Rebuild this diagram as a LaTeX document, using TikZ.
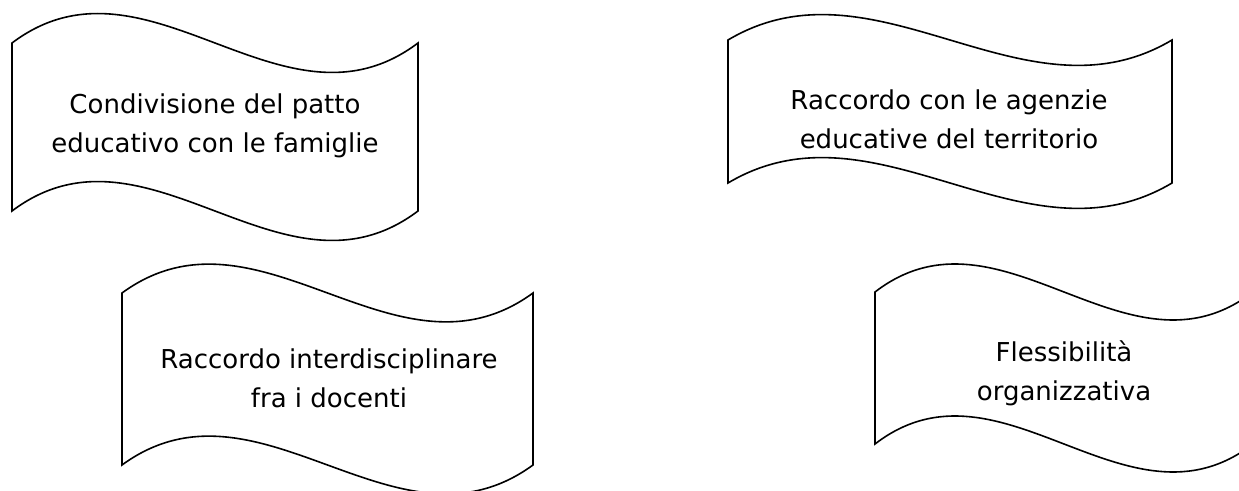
\documentclass[tikz,border=0pt]{standalone}
\usepackage{fontspec}
\setmainfont{DejaVu Sans}
\begin{document}
\begin{tikzpicture}[x=0.75pt,y=-0.75pt,
  banner/.style={draw=black,line width=1.2pt,line join=miter,fill=white},
  caption/.style={align=center,inner sep=0pt,font=\fontsize{19.5}{29.5}\selectfont}]
% page frame
\useasboundingbox (0,0) rectangle (1239,491);
\begin{scope}
\clip (0,0) rectangle (1239,491);
% wavy flag: left x, right x, top corner y, bottom corner y, control offset
\newcommand\wavebanner[5]{%
  \path[banner]
    (#1,#3) .. controls ({#1+(#2-#1)/3},{#3-#5}) and ({#1+2*(#2-#1)/3},{#3+#5}) .. (#2,#3)
    -- (#2,#4)
    .. controls ({#1+2*(#2-#1)/3},{#4+#5}) and ({#1+(#2-#1)/3},{#4-#5}) .. (#1,#4)
    -- cycle;}
\wavebanner{12}{418}{43}{211}{102}
\wavebanner{728}{1172}{40}{183}{88}
\wavebanner{122}{533}{293}{465}{100}
\wavebanner{875}{1253}{292}{444}{97}
\end{scope}
\node[caption] (famiglie) at (215,126) {Condivisione del patto\\educativo con le famiglie};
\node[caption] (territorio) at (949,119) {Raccordo con le agenzie\\educative del territorio};
\node[caption] (docenti) at (329,378) {Raccordo interdisciplinare\\fra i docenti};
\node[caption] (flessibilita) at (1064,373) {Flessibilità\\organizzativa};
\end{tikzpicture}
\end{document}
